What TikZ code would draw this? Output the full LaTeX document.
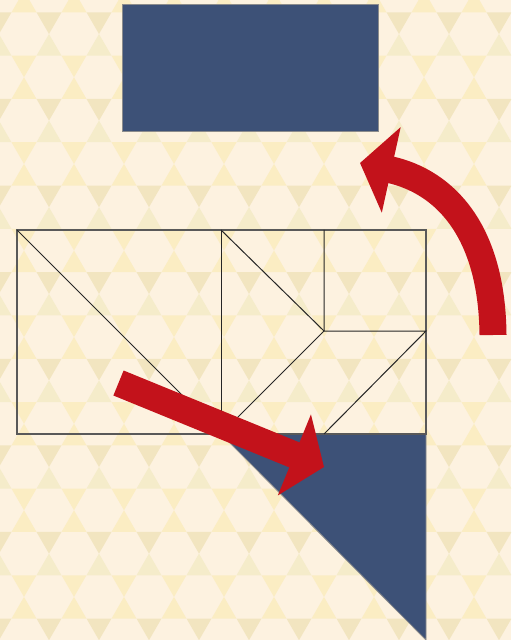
\documentclass[tikz,border=0pt]{standalone}
\usetikzlibrary{arrows.meta}
\definecolor{Cream}{HTML}{FDF2E0}
\definecolor{Sand}{HTML}{F2E5C0}
\definecolor{Straw}{HTML}{F5ECCA}
\definecolor{Butter}{HTML}{FBEDC3}
\definecolor{Navy}{HTML}{3D5177}
\definecolor{Crimson}{HTML}{C3121B}

\begin{document}
\begin{tikzpicture}[x=0.5pt,y=0.5pt,
  frame/.style={draw=black!65,line width=0.8pt},
  cut/.style={draw=black!85,line width=0.5pt},
  tile/.style={fill=Navy,draw=black!45,line width=0.4pt},
  bigarrow/.style={Crimson,line width=13.5pt,-{Triangle[length=16pt,width=43pt]}}]
  \useasboundingbox (0,0) rectangle (511,-640);
  \begin{scope}
    \clip (0,0) rectangle (511,-640);
    \fill[Cream] (0,0) rectangle (511,-640);
    % hexagon and triangle wallpaper
    \foreach \k in {-1,...,14}{
      \ifodd\k \def\dcol{Butter}\def\ucol{Butter}\def\sh{25}%
      \else \def\dcol{Sand}\def\ucol{Straw}\def\sh{0}\fi
      \pgfmathsetmacro\vy{34+43.3*\k}
      \foreach \n in {-1,...,10}{
        \pgfmathsetmacro\vx{49+50*\n-\sh}
        \fill[\dcol] (\vx,-\vy) -- ++(-12.5,21.65) -- ++(25,0) -- cycle;
        \fill[\ucol] (\vx,-\vy) -- ++(-12.5,-21.65) -- ++(25,0) -- cycle;
      }
    }
    % pieces moved out
    \draw[tile] (122,-4) rectangle (378,-131);
    \draw[tile] (221,-434) -- (426,-434) -- (426,-640) -- cycle;
  \end{scope}
  % the cut-up rectangle
  \draw[frame] (17,-230) rectangle (426,-434);
  \draw[cut] (221,-230) -- (221,-434);
  \draw[cut] (17,-230) -- (221,-434);
  \draw[cut] (221,-230) -- (324,-331) -- (221,-434);
  \draw[cut] (324,-230) -- (324,-331) -- (426,-331) -- (324,-434);
  % arrows
  \coordinate (slide tail) at (118.5,-383);
  \coordinate (slide tip) at (324,-467);
  \coordinate (turn tail) at (493,-335);
  \coordinate (turn tip) at (360,-163);
  \draw[bigarrow] (slide tail) -- (slide tip);
  \draw[bigarrow] (turn tail) .. controls (492,-232) and (446,-182) .. (turn tip);
\end{tikzpicture}
\end{document}
